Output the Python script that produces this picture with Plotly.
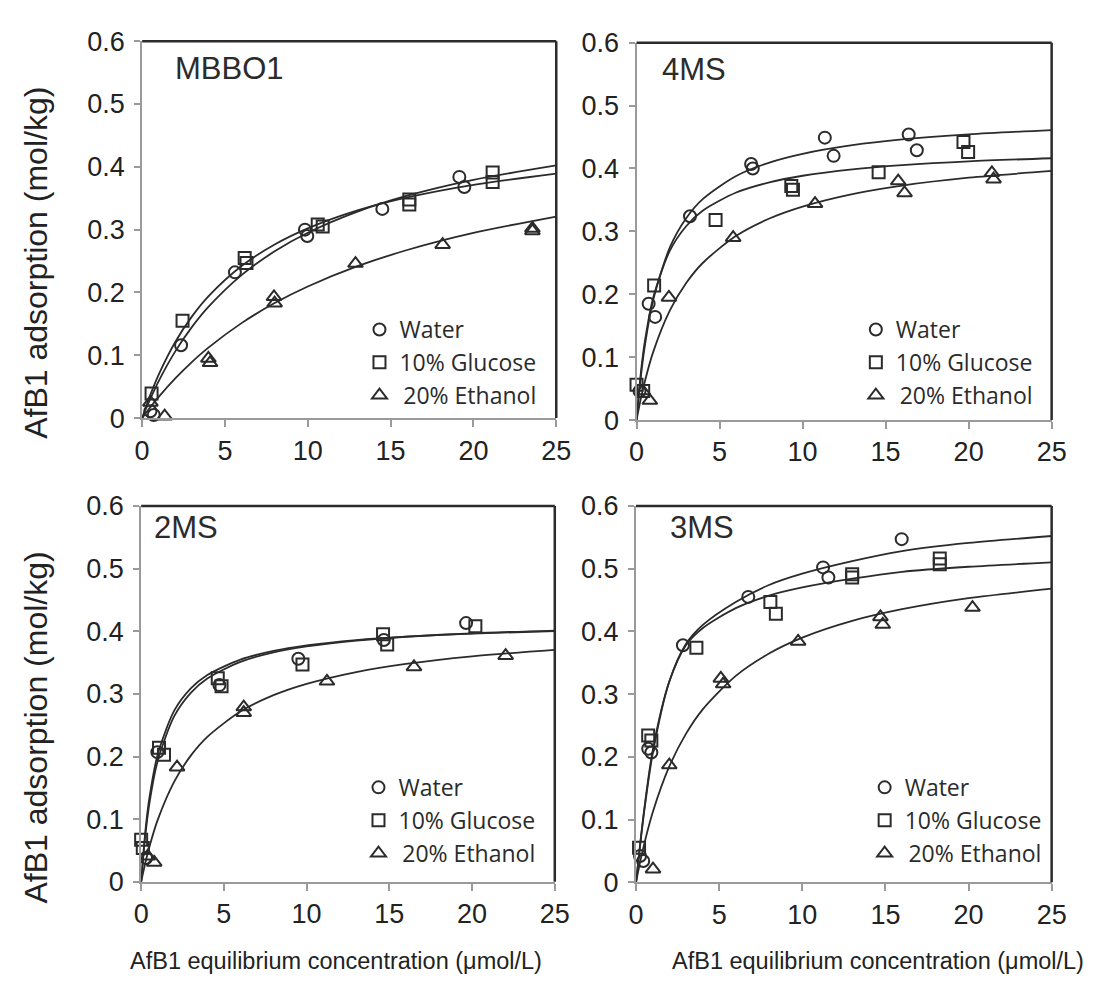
import plotly.graph_objects as go

# ---------------- data ----------------
PANELS = ["MBBO1", "4MS", "2MS", "3MS"]
SERIES = ["Water", "10% Glucose", "20% Ethanol"]
X_TICKS = [0, 5, 10, 15, 20, 25]
Y_TICKS = [0, 0.1, 0.2, 0.3, 0.4, 0.5, 0.6]
Y_TICK_TEXT = ["0", "0.1", "0.2", "0.3", "0.4", "0.5", "0.6"]

# fitted isotherm curves, sampled at these concentrations
X_CURVE = [0, 0.25, 0.5, 1, 2, 3, 4, 6, 8, 10, 13, 16, 20, 25]

# MBBO1
MBBO1_WATER_X = [0.5, 0.7, 2.35, 5.6, 9.83, 9.97, 14.5, 19.15, 19.45]
MBBO1_WATER_Y = [0.011, 0.005, 0.116, 0.232, 0.300, 0.290, 0.333, 0.384, 0.368]
MBBO1_GLUC_X = [0.57, 2.44, 6.19, 6.3, 10.6, 10.9, 16.13, 16.13, 21.16, 21.16]
MBBO1_GLUC_Y = [0.039, 0.155, 0.255, 0.247, 0.308, 0.305, 0.348, 0.340, 0.391, 0.376]
MBBO1_ETH_X = [0.5, 1.36, 4.0, 4.1, 7.96, 8.0, 12.88, 18.14, 23.56, 23.56]
MBBO1_ETH_Y = [0.025, 0.003, 0.095, 0.088, 0.193, 0.183, 0.246, 0.276, 0.302, 0.298]
MBBO1_WATER_CURVE = [0, 0.0161, 0.0312, 0.0590, 0.1062, 0.1448, 0.1770, 0.2276, 0.2655, 0.2950, 0.3287, 0.3540, 0.3793, 0.4023]
MBBO1_GLUC_CURVE = [0, 0.0194, 0.0374, 0.0693, 0.1212, 0.1615, 0.1937, 0.2420, 0.2764, 0.3021, 0.3306, 0.3513, 0.3714, 0.3893]
MBBO1_ETH_CURVE = [0, 0.0089, 0.0175, 0.0338, 0.0632, 0.0892, 0.1122, 0.1512, 0.1831, 0.2095, 0.2418, 0.2676, 0.2948, 0.3209]

# 4MS
MS4_WATER_X = [0.18, 0.73, 1.12, 3.22, 6.9, 7.0, 11.34, 11.87, 16.39, 16.88]
MS4_WATER_Y = [0.046, 0.185, 0.164, 0.324, 0.407, 0.400, 0.449, 0.420, 0.454, 0.429]
MS4_GLUC_X = [0.0, 0.4, 1.06, 4.76, 9.32, 9.42, 14.58, 19.69, 19.97]
MS4_GLUC_Y = [0.056, 0.046, 0.214, 0.318, 0.372, 0.366, 0.394, 0.442, 0.426]
MS4_ETH_X = [0.37, 0.8, 1.95, 5.82, 10.75, 15.76, 16.14, 21.4, 21.5]
MS4_ETH_Y = [0.046, 0.031, 0.195, 0.290, 0.344, 0.380, 0.361, 0.393, 0.383]
MS4_WATER_CURVE = [0, 0.0671, 0.1181, 0.1903, 0.2741, 0.3213, 0.3516, 0.3881, 0.4094, 0.4233, 0.4370, 0.4461, 0.4542, 0.4610]
MS4_GLUC_CURVE = [0, 0.0728, 0.1249, 0.1942, 0.2689, 0.3085, 0.3330, 0.3617, 0.3779, 0.3884, 0.3987, 0.4053, 0.4113, 0.4162]
MS4_ETH_CURVE = [0, 0.0330, 0.0614, 0.1080, 0.1739, 0.2182, 0.2501, 0.2929, 0.3204, 0.3394, 0.3592, 0.3727, 0.3853, 0.3960]

# 2MS
MS2_WATER_X = [0.3, 0.98, 4.73, 9.5, 14.67, 19.64]
MS2_WATER_Y = [0.038, 0.207, 0.314, 0.356, 0.386, 0.413]
MS2_GLUC_X = [0.0, 0.1, 1.08, 1.38, 4.63, 4.86, 9.75, 14.62, 14.87, 20.2]
MS2_GLUC_Y = [0.067, 0.054, 0.214, 0.203, 0.325, 0.312, 0.347, 0.395, 0.379, 0.408]
MS2_ETH_X = [0.4, 0.79, 2.17, 6.2, 6.2, 11.23, 16.49, 22.03]
MS2_ETH_Y = [0.041, 0.031, 0.183, 0.279, 0.270, 0.320, 0.343, 0.361]
MS2_WATER_CURVE = [0, 0.0800, 0.1343, 0.2032, 0.2732, 0.3087, 0.3301, 0.3548, 0.3685, 0.3773, 0.3858, 0.3913, 0.3962, 0.4002]
MS2_GLUC_CURVE = [0, 0.0736, 0.1253, 0.1930, 0.2644, 0.3017, 0.3245, 0.3511, 0.3662, 0.3758, 0.3851, 0.3912, 0.3967, 0.4011]
MS2_ETH_CURVE = [0, 0.0301, 0.0561, 0.0989, 0.1600, 0.2014, 0.2314, 0.2718, 0.2979, 0.3160, 0.3349, 0.3479, 0.3600, 0.3702]

# 3MS
MS3_WATER_X = [0.24, 0.43, 0.73, 0.92, 2.82, 6.75, 11.25, 11.57, 15.98]
MS3_WATER_Y = [0.042, 0.034, 0.213, 0.207, 0.378, 0.455, 0.502, 0.486, 0.547]
MS3_GLUC_X = [0.18, 0.73, 0.92, 3.63, 8.08, 8.41, 13.0, 13.0, 18.27, 18.27]
MS3_GLUC_Y = [0.055, 0.234, 0.226, 0.374, 0.447, 0.428, 0.491, 0.486, 0.516, 0.507]
MS3_ETH_X = [1.02, 2.0, 5.1, 5.24, 9.75, 14.7, 14.84, 20.24]
MS3_ETH_Y = [0.021, 0.187, 0.325, 0.316, 0.384, 0.423, 0.411, 0.438]
MS3_WATER_CURVE = [0, 0.060, 0.115, 0.205, 0.320, 0.380, 0.410, 0.447, 0.474, 0.492, 0.512, 0.528, 0.541, 0.552]
MS3_GLUC_CURVE = [0, 0.062, 0.118, 0.210, 0.320, 0.378, 0.405, 0.437, 0.457, 0.470, 0.484, 0.495, 0.503, 0.510]
MS3_ETH_CURVE = [0, 0.0330, 0.0621, 0.1114, 0.1847, 0.2366, 0.2753, 0.3291, 0.3647, 0.3900, 0.4167, 0.4353, 0.4529, 0.4680]

PANEL_DATA = {
    "MBBO1": [(MBBO1_WATER_X, MBBO1_WATER_Y, MBBO1_WATER_CURVE),
              (MBBO1_GLUC_X, MBBO1_GLUC_Y, MBBO1_GLUC_CURVE),
              (MBBO1_ETH_X, MBBO1_ETH_Y, MBBO1_ETH_CURVE)],
    "4MS": [(MS4_WATER_X, MS4_WATER_Y, MS4_WATER_CURVE),
            (MS4_GLUC_X, MS4_GLUC_Y, MS4_GLUC_CURVE),
            (MS4_ETH_X, MS4_ETH_Y, MS4_ETH_CURVE)],
    "2MS": [(MS2_WATER_X, MS2_WATER_Y, MS2_WATER_CURVE),
            (MS2_GLUC_X, MS2_GLUC_Y, MS2_GLUC_CURVE),
            (MS2_ETH_X, MS2_ETH_Y, MS2_ETH_CURVE)],
    "3MS": [(MS3_WATER_X, MS3_WATER_Y, MS3_WATER_CURVE),
            (MS3_GLUC_X, MS3_GLUC_Y, MS3_GLUC_CURVE),
            (MS3_ETH_X, MS3_ETH_Y, MS3_ETH_CURVE)],
}

# ---------------- styling / layout ----------------
W, H = 1097, 1006
INK = "#2b2b2b"
AXIS_GRAY = "#9a9a9a"
SYMBOLS = ["circle-open", "square-open", "triangle-up-open"]
LEGEND_LABELS = ["Water", "10% Glucose", "\u200920% Ethanol"]
SANS = "Liberation Sans"
LEG_FONT = "Open Sans"


def px(x):
    return x / W


def py(y):
    return 1 - y / H


# plot-area pixel boxes (left, top, right, bottom)
BOXES = {
    "MBBO1": (137, 27, 560, 415.5),
    "4MS": (642, 28.5, 1066, 417.5),
    "2MS": (136, 506, 558.5, 893.5),
    "3MS": (641.5, 506, 1066, 894),
}
TITLE_POS = {"MBBO1": (169, 55), "4MS": (666, 56), "2MS": (147, 528), "3MS": (674, 528)}
LEGEND_POS = {"MBBO1": (359, 302), "4MS": (866, 302), "2MS": (358, 774), "3MS": (875, 774)}

fig = go.Figure()
layout = dict(
    width=W, height=H,
    margin=dict(l=0, r=0, t=0, b=0),
    paper_bgcolor="white", plot_bgcolor="white",
    showlegend=True,
    annotations=[], shapes=[],
)

for i, name in enumerate(PANELS):
    n = i + 1
    xa = "xaxis" if n == 1 else f"xaxis{n}"
    ya = "yaxis" if n == 1 else f"yaxis{n}"
    xr = "x" if n == 1 else f"x{n}"
    yr = "y" if n == 1 else f"y{n}"
    lg = "legend" if n == 1 else f"legend{n}"
    l, t, r, b = BOXES[name]
    layout[xa] = dict(
        domain=[px(l), px(r)], anchor=yr, range=[0, 25],
        tickvals=X_TICKS, ticktext=[str(v) for v in X_TICKS],
        showline=True, linecolor=AXIS_GRAY, linewidth=2,
        ticks="outside", ticklen=7, tickwidth=2, tickcolor=AXIS_GRAY,
        tickfont=dict(family=SANS, size=27, color="#222"),
        showgrid=False, zeroline=False, fixedrange=True,
    )
    layout[ya] = dict(
        domain=[py(b), py(t)], anchor=xr, range=[0, 0.6],
        tickvals=Y_TICKS, ticktext=Y_TICK_TEXT,
        showline=True, linecolor=AXIS_GRAY, linewidth=2,
        ticks="outside", ticklen=6, tickwidth=2, tickcolor=AXIS_GRAY,
        tickfont=dict(family=SANS, size=27, color="#222"),
        ticklabelstandoff=4,
        showgrid=False, zeroline=False, fixedrange=True,
    )
    lx, ly = LEGEND_POS[name]
    layout[lg] = dict(
        x=px(lx), y=py(ly), xanchor="left", yanchor="top",
        bgcolor="rgba(0,0,0,0)", borderwidth=0,
        font=dict(family=LEG_FONT, size=23, color=INK),
        tracegroupgap=0, itemsizing="trace",
    )
    # top and right frame
    layout["shapes"].append(dict(type="line", xref=f"{xr} domain", yref=f"{yr} domain",
                                 x0=0, x1=1, y0=1, y1=1, line=dict(color=INK, width=2.5)))
    layout["shapes"].append(dict(type="line", xref=f"{xr} domain", yref=f"{yr} domain",
                                 x0=1, x1=1, y0=0, y1=1, line=dict(color=INK, width=2.5)))
    tx, ty = TITLE_POS[name]
    layout["annotations"].append(dict(
        text=name, x=px(tx), y=py(ty), xref="paper", yref="paper",
        xanchor="left", yanchor="middle", showarrow=False,
        font=dict(family=SANS, size=31, color=INK)))

    for s, (dx, dy, cy) in enumerate(PANEL_DATA[name]):
        fig.add_trace(go.Scatter(
            x=X_CURVE, y=cy, mode="lines", xaxis=xr, yaxis=yr,
            line=dict(color=INK, width=1.8, shape="spline", smoothing=0.8),
            showlegend=False, hoverinfo="skip"))
        fig.add_trace(go.Scatter(
            x=dx, y=dy, mode="markers", xaxis=xr, yaxis=yr,
            name=LEGEND_LABELS[s], legend=lg, legendgroup=f"{name}-{s}",
            marker=dict(symbol=SYMBOLS[s], size=12 if s < 2 else 13,
                        color=INK, line=dict(width=2, color=INK)),
            cliponaxis=False))

# axis titles
for yc in (255, 734):
    layout["annotations"].append(dict(
        text="AfB1 adsorption (mol/kg)", x=px(29), y=py(yc), xref="paper", yref="paper",
        textangle=-90, showarrow=False, xanchor="center", yanchor="middle",
        font=dict(family=SANS, size=32, color="#222")))
for xc in (335, 889):
    layout["annotations"].append(dict(
        text="AfB1 equilibrium concentration (\u03bcmol/L)", x=px(xc), y=py(975),
        xref="paper", yref="paper", showarrow=False, xanchor="center", yanchor="middle",
        font=dict(family=SANS, size=23.5, color="#222")))

fig.update_layout(**layout)
fig.write_html("out.html")
